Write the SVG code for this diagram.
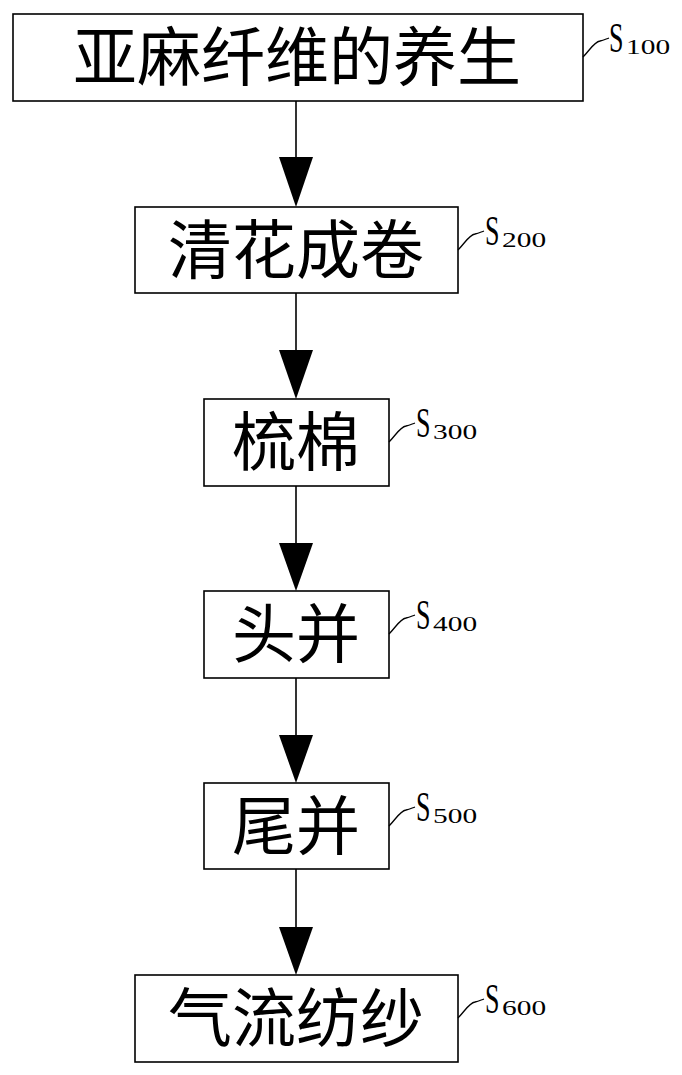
<svg xmlns="http://www.w3.org/2000/svg" width="682" height="1075" viewBox="0 0 682 1075">
<style>
.box{fill:#fff;stroke:#000;stroke-width:1.6}
.t{font-family:"Noto Sans CJK SC","Noto Sans CJK JP",sans-serif;font-size:64px;fill:#000;text-anchor:middle}
.s{font-family:"Liberation Serif",serif;font-size:42px;fill:#000}
.n{font-family:"Liberation Serif",serif;font-size:21px;fill:#000}
.ld{fill:none;stroke:#000;stroke-width:1.3}
.ln{stroke:#000;stroke-width:1.6}
.ah{fill:#000}
</style>
<rect width="682" height="1075" fill="#fff"/>
<g id="connectors">
<line class="ln" x1="296" y1="101" x2="296" y2="160"/><polygon class="ah" points="279,157 313,157 296,207"/>
<line class="ln" x1="296" y1="293" x2="296" y2="352"/><polygon class="ah" points="279,350 313,350 296,399"/>
<line class="ln" x1="296" y1="486" x2="296" y2="545"/><polygon class="ah" points="279,543 313,543 296,591"/>
<line class="ln" x1="296" y1="678" x2="296" y2="737"/><polygon class="ah" points="279,735 313,735 296,783"/>
<line class="ln" x1="296" y1="869" x2="296" y2="929"/><polygon class="ah" points="279,927 313,927 296,975"/>
</g>
<g id="S100">
<rect class="box" x="13" y="14" width="570" height="87"/>
<text class="t" x="297" y="80">亚麻纤维的养生</text>
<path class="ld" d="M583,57 C590,50 594,42 600,41 C604,40 606,39 609,38"/>
<text class="s" transform="translate(609,52) scale(0.62,1)">S</text>
<text class="n" transform="translate(626,54) scale(1.4,1)">100</text>
</g>
<g id="S200">
<rect class="box" x="135" y="207" width="323" height="86"/>
<text class="t" x="296" y="273">清花成卷</text>
<path class="ld" d="M458,250 C465,243 469,235 475,234 C479,233 481,232 484,231"/>
<text class="s" transform="translate(485,245) scale(0.62,1)">S</text>
<text class="n" transform="translate(502,247) scale(1.4,1)">200</text>
</g>
<g id="S300">
<rect class="box" x="204" y="399" width="185" height="87"/>
<text class="t" x="296" y="465">梳棉</text>
<path class="ld" d="M389,442 C396,435 400,427 406,426 C410,425 412,424 415,423"/>
<text class="s" transform="translate(416,437) scale(0.62,1)">S</text>
<text class="n" transform="translate(433,439) scale(1.4,1)">300</text>
</g>
<g id="S400">
<rect class="box" x="204" y="591" width="185" height="87"/>
<text class="t" x="296" y="657">头并</text>
<path class="ld" d="M389,634 C396,627 400,619 406,618 C410,617 412,616 415,615"/>
<text class="s" transform="translate(416,629) scale(0.62,1)">S</text>
<text class="n" transform="translate(433,631) scale(1.4,1)">400</text>
</g>
<g id="S500">
<rect class="box" x="204" y="783" width="185" height="86"/>
<text class="t" x="296" y="849">尾并</text>
<path class="ld" d="M389,826 C396,819 400,811 406,810 C410,809 412,808 415,807"/>
<text class="s" transform="translate(416,821) scale(0.62,1)">S</text>
<text class="n" transform="translate(433,823) scale(1.4,1)">500</text>
</g>
<g id="S600">
<rect class="box" x="135" y="975" width="323" height="87"/>
<text class="t" x="296" y="1041">气流纺纱</text>
<path class="ld" d="M458,1018 C465,1011 469,1003 475,1002 C479,1001 481,1000 484,999"/>
<text class="s" transform="translate(485,1013) scale(0.62,1)">S</text>
<text class="n" transform="translate(502,1015) scale(1.4,1)">600</text>
</g>
</svg>
